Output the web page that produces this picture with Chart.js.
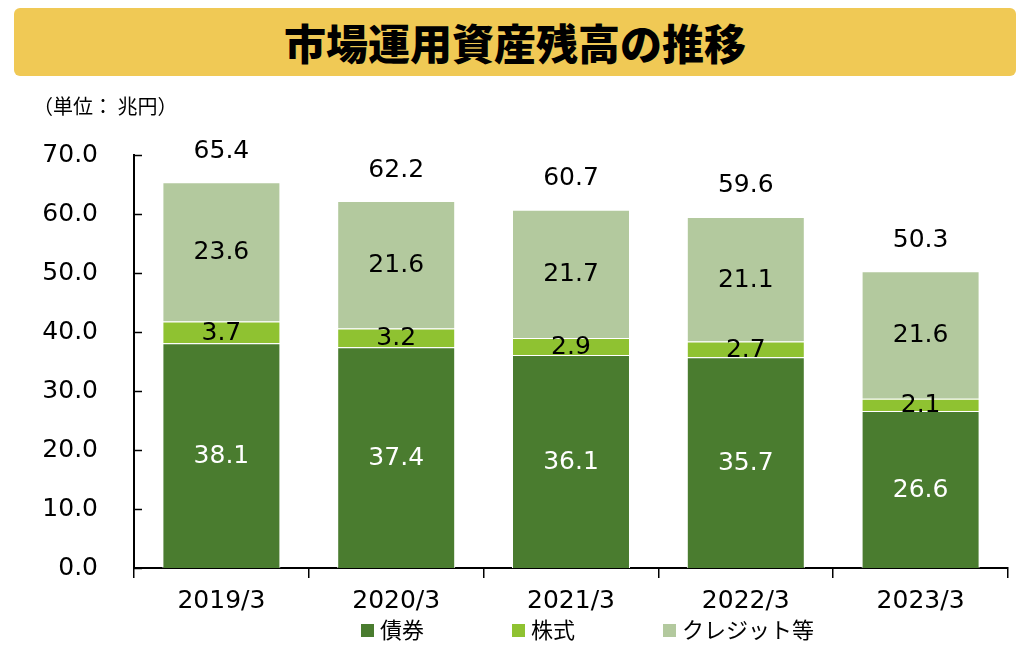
<!DOCTYPE html>
<html lang="ja">
<head>
<meta charset="utf-8">
<script src="https://cdn.jsdelivr.net/npm/chart.js@4/dist/chart.umd.min.js"></script>
<style>
  body { margin: 0; background: #fff; font-family: 'DejaVu Sans', 'Noto Sans CJK JP', sans-serif; }
  .wrap { position: relative; width: 1024px; height: 647px; }
  .title { position: absolute; left: 14px; top: 8px; width: 1002px; height: 68px; background: #f0c955;
    border-radius: 6px; text-align: center; line-height: 68px; font-size: 42px; font-weight: 900;
    font-family: 'Noto Sans CJK JP', sans-serif; color: #000; }
  .unit { position: absolute; left: 33px; top: 91px; font-size: 20px; font-family: 'Noto Sans CJK JP', sans-serif; }
  canvas { position: absolute; left: 0; top: 0; }
  #legend { position: absolute; left: 361px; top: 612px; white-space: nowrap;
    font-family: 'Noto Sans CJK JP', sans-serif; font-size: 22px; line-height: 32px; }
  #legend span.item { display: inline-block; width: 151px; }
  #legend i { display: inline-block; width: 13px; height: 13px; margin-right: 6px; vertical-align: 1px; }
</style>
</head>
<body>
<div class="wrap">
  <canvas id="c" width="1024" height="647"></canvas>
  <div class="title">市場運用資産残高の推移</div>
  <div class="unit">（単位： 兆円）</div>
  <div id="legend"></div>
</div>
<script>
// ── DATA ──
const years = ['2019/3', '2020/3', '2021/3', '2022/3', '2023/3'];
const bonds = [38.1, 37.4, 36.1, 35.7, 26.6];
const stocks = [3.7, 3.2, 2.9, 2.7, 2.1];
const credit = [23.6, 21.6, 21.7, 21.1, 21.6];
const totals = [65.4, 62.2, 60.7, 59.6, 50.3];
const yTicks = [0, 10, 20, 30, 40, 50, 60, 70];

const FONT = "'DejaVu Sans', 'Noto Sans CJK JP', sans-serif";

// ── VALUE LABELS + INNER Y TICKS ──
const labelPlugin = {
  id: 'valueLabels',
  afterDatasetsDraw(chart) {
    const ctx = chart.ctx;
    ctx.save();
    ctx.font = '25px ' + FONT;
    ctx.textAlign = 'center';
    ctx.textBaseline = 'middle';
    chart.data.datasets.forEach((ds, i) => {
      chart.getDatasetMeta(i).data.forEach((bar, j) => {
        ctx.fillStyle = i === 0 ? '#fff' : '#000';
        ctx.fillText(ds.data[j].toFixed(1), bar.x, (bar.y + bar.base) / 2 + 1);
      });
    });
    const top = chart.getDatasetMeta(2).data;
    ctx.fillStyle = '#000';
    top.forEach((bar, j) => ctx.fillText(totals[j].toFixed(1), bar.x, bar.y - 31));

    // y ticks point into the plot
    const y = chart.scales.y, left = chart.chartArea.left;
    ctx.strokeStyle = '#000';
    ctx.lineWidth = 1.5;
    yTicks.forEach(v => {
      const py = Math.round(y.getPixelForValue(v)) + 0.5;
      ctx.beginPath(); ctx.moveTo(left, py); ctx.lineTo(left + 8, py); ctx.stroke();
    });
    ctx.restore();
  }
};

const chart = new Chart(document.getElementById('c'), {
  type: 'bar',
  data: {
    labels: years,
    datasets: [
      { label: '債券', data: bonds, backgroundColor: '#4a7c2f', borderColor: '#fff', borderWidth: 1 },
      { label: '株式', data: stocks, backgroundColor: '#8fc231', borderColor: '#fff', borderWidth: 1 },
      { label: 'クレジット等', data: credit, backgroundColor: '#b3c99e', borderColor: '#fff', borderWidth: 1 }
    ]
  },
  options: {
    responsive: false, animation: false,
    datasets: { bar: { categoryPercentage: 0.675, barPercentage: 1 } },
    layout: { padding: { top: 155, right: 16, left: 6, bottom: 23 } },
    plugins: { legend: { display: false }, tooltip: { enabled: false } },
    scales: {
      x: { stacked: true,
        border: { color: '#000', width: 2 },
        grid: { display: true, drawOnChartArea: false, offset: true, color: '#000', lineWidth: 1.5, tickLength: 10 },
        ticks: { color: '#000', padding: 8, font: { size: 25, family: FONT } } },
      y: { stacked: true, min: 0, max: 70,
        afterBuildTicks: ax => { ax.ticks = yTicks.map(v => ({ value: v })); },
        afterFit: ax => { ax.width = 128; },
        border: { color: '#000', width: 2 },
        grid: { display: false, drawTicks: false },
        ticks: { color: '#000', padding: 36, font: { size: 25, family: FONT }, callback: v => v.toFixed(1) } }
    }
  },
  plugins: [labelPlugin]
});

// ── HTML LEGEND ──
document.getElementById('legend').innerHTML = chart.data.datasets.map(ds =>
  `<span class="item"><i style="background:${ds.backgroundColor}"></i>${ds.label}</span>`).join('');
</script>
</body>
</html>
